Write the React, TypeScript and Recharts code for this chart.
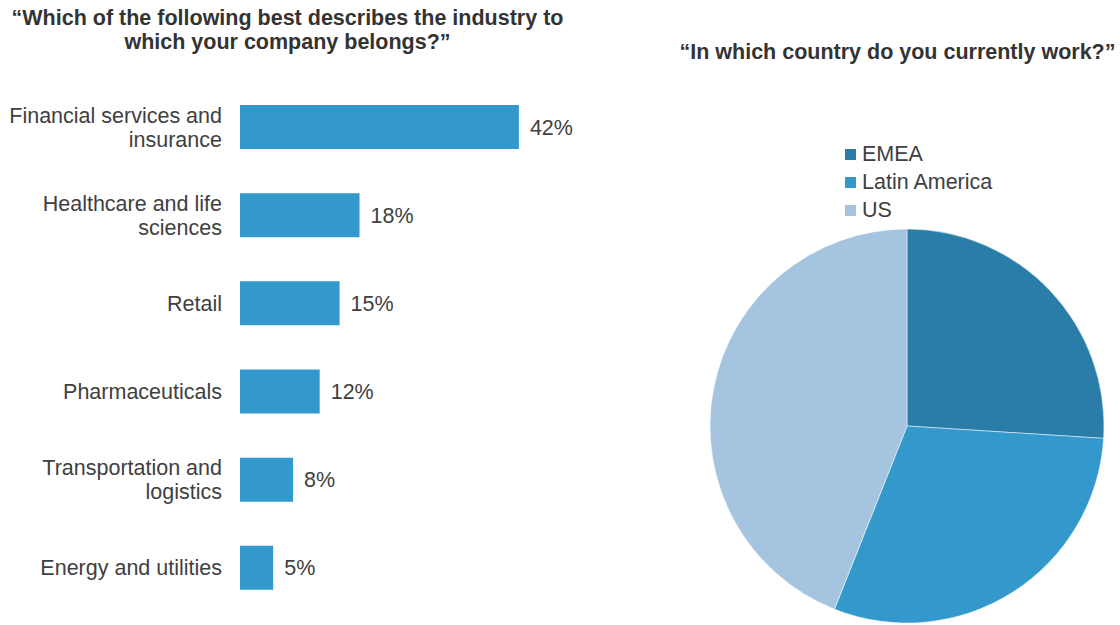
import React from "react";
import { Bar, BarChart, Cell, LabelList, Pie, PieChart, XAxis, YAxis } from "recharts";

const industries = [
  "Financial services and\ninsurance",
  "Healthcare and life\nsciences",
  "Retail",
  "Pharmaceuticals",
  "Transportation and\nlogistics",
  "Energy and utilities",
];
const industryShare = [42, 18, 15, 12, 8, 5];

const regions = ["EMEA", "Latin America", "US"];
const regionShare = [26, 30, 44];
const regionColors = ["#2A7DA8", "#3399CC", "#A4C4E0"];

const FONT = '"Liberation Sans", Arial, Helvetica, sans-serif';
const TEXT = "#404040";
const BAR = "#3399CC";
const FS = 21.5;

const barData = industries.map((name, i) => ({ name, value: industryShare[i] }));
const pieData = regions.map((name, i) => ({ name, value: regionShare[i] }));

function IndustryTick(props: any) {
  const { x, y, payload } = props;
  const lines = String(payload.value).split("\n");
  const lh = 24;
  const start = -((lines.length - 1) * lh) / 2;
  return (
    <text x={x} y={y} textAnchor="end" fill={TEXT} fontSize={FS} fontFamily={FONT}>
      {lines.map((l, i) => (
        <tspan key={i} x={x} y={y + start + i * lh} dy="0.35em">
          {l}
        </tspan>
      ))}
    </text>
  );
}

function RegionLegend() {
  return (
    <div style={{ position: "absolute", left: 845, top: 140, fontFamily: FONT }}>
      {regions.map((r, i) => (
        <div
          key={r}
          style={{ display: "flex", alignItems: "center", height: 28, fontSize: FS, color: TEXT }}
        >
          <span
            style={{ width: 11, height: 11, background: regionColors[i], marginRight: 6, display: "inline-block" }}
          />
          {r}
        </div>
      ))}
    </div>
  );
}

export default function App() {
  return (
    <div
      style={{
        position: "absolute",
        left: 0,
        top: 0,
        width: 1120,
        height: 625,
        background: "#fff",
        fontFamily: FONT,
        overflow: "hidden",
      }}
    >
      <div
        style={{
          position: "absolute",
          left: 0,
          top: 6,
          width: 575,
          textAlign: "center",
          fontWeight: "bold",
          fontSize: FS,
          lineHeight: "24px",
          color: "#333",
        }}
      >
        “Which of the following best describes the industry to
        <br />
        which your company belongs?”
      </div>
      <div
        style={{
          position: "absolute",
          left: 675,
          top: 40,
          width: 445,
          textAlign: "center",
          fontWeight: "bold",
          fontSize: FS,
          lineHeight: "24px",
          color: "#333",
          whiteSpace: "nowrap",
        }}
      >
        “In which country do you currently work?”
      </div>

      <div style={{ position: "absolute", left: 0, top: 0 }}>
        <BarChart
          width={600}
          height={625}
          data={barData}
          layout="vertical"
          margin={{ top: 83, right: 28, bottom: 13, left: 0 }}
        >
          <XAxis type="number" domain={[0, 50]} hide />
          <YAxis
            type="category"
            dataKey="name"
            width={240}
            axisLine={false}
            tickLine={false}
            tickMargin={12}
            tick={<IndustryTick />}
            interval={0}
          />
          <Bar dataKey="value" fill={BAR} barSize={44} isAnimationActive={false}>
            <LabelList
              dataKey="value"
              position="right"
              offset={11}
              formatter={(v: any) => `${v}%`}
              fill={TEXT}
              fontSize={FS}
              fontFamily={FONT}
            />
          </Bar>
        </BarChart>
      </div>

      <div style={{ position: "absolute", left: 700, top: 0 }}>
        <PieChart width={420} height={625} margin={{ top: 0, right: 0, bottom: 0, left: 0 }}>
          <Pie
            data={pieData}
            dataKey="value"
            nameKey="name"
            cx={207}
            cy={426}
            outerRadius={197}
            startAngle={90}
            endAngle={-270}
            stroke="#ffffff"
            strokeWidth={0.5}
            isAnimationActive={false}
          >
            {pieData.map((d, i) => (
              <Cell key={d.name} fill={regionColors[i]} />
            ))}
          </Pie>
        </PieChart>
      </div>

      <RegionLegend />
    </div>
  );
}
